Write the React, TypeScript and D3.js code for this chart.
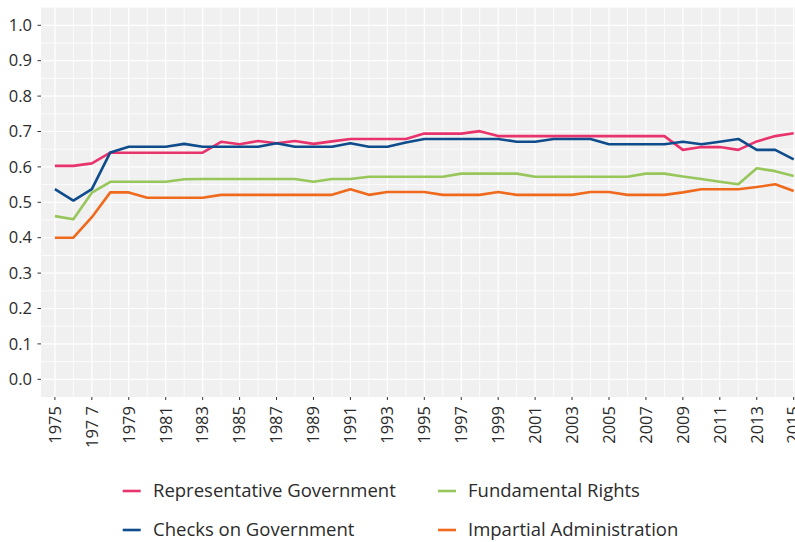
import React from "react";
import * as d3 from "d3";

const years: number[] = d3.range(1975, 2016);

const representative: number[] = [
  0.603, 0.603, 0.610, 0.640, 0.640, 0.640, 0.640, 0.640, 0.640, 0.671,
  0.664, 0.673, 0.667, 0.673, 0.665, 0.672, 0.679, 0.679, 0.679, 0.679,
  0.694, 0.694, 0.694, 0.701, 0.687, 0.687, 0.687, 0.687, 0.687, 0.687,
  0.687, 0.687, 0.687, 0.687, 0.648, 0.656, 0.656, 0.648, 0.672, 0.687,
  0.695,
];
const checks: number[] = [
  0.537, 0.505, 0.537, 0.641, 0.657, 0.657, 0.657, 0.665, 0.657, 0.657,
  0.657, 0.657, 0.667, 0.657, 0.657, 0.657, 0.667, 0.657, 0.657, 0.669,
  0.679, 0.679, 0.679, 0.679, 0.679, 0.671, 0.671, 0.679, 0.679, 0.679,
  0.664, 0.664, 0.664, 0.664, 0.671, 0.664, 0.671, 0.679, 0.648, 0.648,
  0.621,
];
const fundamental: number[] = [
  0.461, 0.452, 0.527, 0.558, 0.558, 0.558, 0.558, 0.565, 0.566, 0.566,
  0.566, 0.566, 0.566, 0.566, 0.558, 0.566, 0.566, 0.572, 0.572, 0.572,
  0.572, 0.572, 0.581, 0.581, 0.581, 0.581, 0.572, 0.572, 0.572, 0.572,
  0.572, 0.572, 0.581, 0.581, 0.573, 0.566, 0.558, 0.551, 0.596, 0.588,
  0.574,
];
const impartial: number[] = [
  0.400, 0.400, 0.458, 0.528, 0.528, 0.513, 0.513, 0.513, 0.513, 0.521,
  0.521, 0.521, 0.521, 0.521, 0.521, 0.521, 0.537, 0.521, 0.529, 0.529,
  0.529, 0.521, 0.521, 0.521, 0.529, 0.521, 0.521, 0.521, 0.521, 0.529,
  0.529, 0.521, 0.521, 0.521, 0.528, 0.537, 0.537, 0.537, 0.543, 0.551,
  0.532,
];

const seriesNames: string[] = [
  "Representative Government",
  "Checks on Government",
  "Fundamental Rights",
  "Impartial Administration",
];
const seriesColors: string[] = ["#E8336D", "#0E4C8C", "#97C65A", "#EF6A1C"];
const seriesValues: number[][] = [representative, checks, fundamental, impartial];

const yTicks: number[] = [0, 0.1, 0.2, 0.3, 0.4, 0.5, 0.6, 0.7, 0.8, 0.9, 1.0];
const xTickYears: number[] = d3.range(1975, 2016, 2);
const xTickLabels: string[] = xTickYears.map((y) => (y === 1977 ? "197 7" : String(y)));

const W = 795;
const H = 542;
const FONT = "'Open Sans', 'Noto Sans', sans-serif";

export default function App() {
  const x = d3.scaleLinear().domain([1975, 2015]).range([54.9, 793.7]);
  const y = d3.scaleLinear().domain([0, 1]).range([379.3, 25.3]);

  const panelLeft = 41;
  const panelTop = y(1.05);
  const panelBottom = y(-0.05);
  const panelRight = x(2015.75);

  const line = d3
    .line<number>()
    .x((_, i) => x(years[i]))
    .y((d) => y(d));

  const hGrid = d3.range(0, 21).map((i) => i * 0.05);

  const legendItems = [
    { idx: 0, kx: 122.7, tx: 153, ty: 491 },
    { idx: 2, kx: 438, tx: 468, ty: 491 },
    { idx: 1, kx: 122.7, tx: 153, ty: 530 },
    { idx: 3, kx: 438, tx: 468, ty: 530 },
  ];

  return (
    <svg
      width={W}
      height={H}
      style={{ position: "absolute", left: 0, top: 0, background: "#fff" }}
      fontFamily={FONT}
    >
      <defs>
        <clipPath id="panel">
          <rect x={panelLeft} y={panelTop} width={panelRight - panelLeft} height={panelBottom - panelTop} />
        </clipPath>
      </defs>
      <rect
        x={panelLeft}
        y={panelTop}
        width={panelRight - panelLeft}
        height={panelBottom - panelTop}
        fill="#F0F0F0"
      />
      <g clipPath="url(#panel)">
        {hGrid.map((v, i) => (
          <line
            key={"h" + i}
            x1={panelLeft}
            x2={panelRight}
            y1={y(v)}
            y2={y(v)}
            stroke="#fff"
            strokeWidth={i % 2 === 0 ? 1.2 : 0.8}
          />
        ))}
        {years.map((yr) => (
          <line
            key={"v" + yr}
            x1={x(yr)}
            x2={x(yr)}
            y1={panelTop}
            y2={panelBottom}
            stroke="#fff"
            strokeWidth={yr % 2 === 1 ? 1.2 : 0.8}
          />
        ))}
        {seriesValues.map((vals, i) => (
          <path
            key={"s" + i}
            d={line(vals) || ""}
            fill="none"
            stroke={seriesColors[i]}
            strokeWidth={2.6}
            strokeLinejoin="round"
          />
        ))}
      </g>
      {yTicks.map((v) => (
        <g key={"yt" + v}>
          <line x1={37.5} x2={panelLeft} y1={y(v)} y2={y(v)} stroke="#333" strokeWidth={1} />
          <text
            x={32}
            y={y(v)}
            dy="0.35em"
            textAnchor="end"
            fontSize={16.5}
            fill="#2b2b2b"
          >
            {v.toFixed(1)}
          </text>
        </g>
      ))}
      {xTickYears.map((yr, i) => (
        <g key={"xt" + yr}>
          <line x1={x(yr)} x2={x(yr)} y1={panelBottom} y2={panelBottom + 3} stroke="#333" strokeWidth={1} />
          <text
            transform={`translate(${x(yr)},${406}) rotate(-90)`}
            dy="0.35em"
            textAnchor="end"
            fontSize={16.5}
            fill="#2b2b2b"
          >
            {xTickLabels[i]}
          </text>
        </g>
      ))}
      {legendItems.map((it) => (
        <g key={"lg" + it.idx}>
          <line
            x1={it.kx}
            x2={it.kx + 18}
            y1={it.ty}
            y2={it.ty}
            stroke={seriesColors[it.idx]}
            strokeWidth={2.6}
          />
          <text x={it.tx} y={it.ty} dy="0.33em" fontSize={18.5} fill="#2b2b2b">
            {seriesNames[it.idx]}
          </text>
        </g>
      ))}
    </svg>
  );
}
